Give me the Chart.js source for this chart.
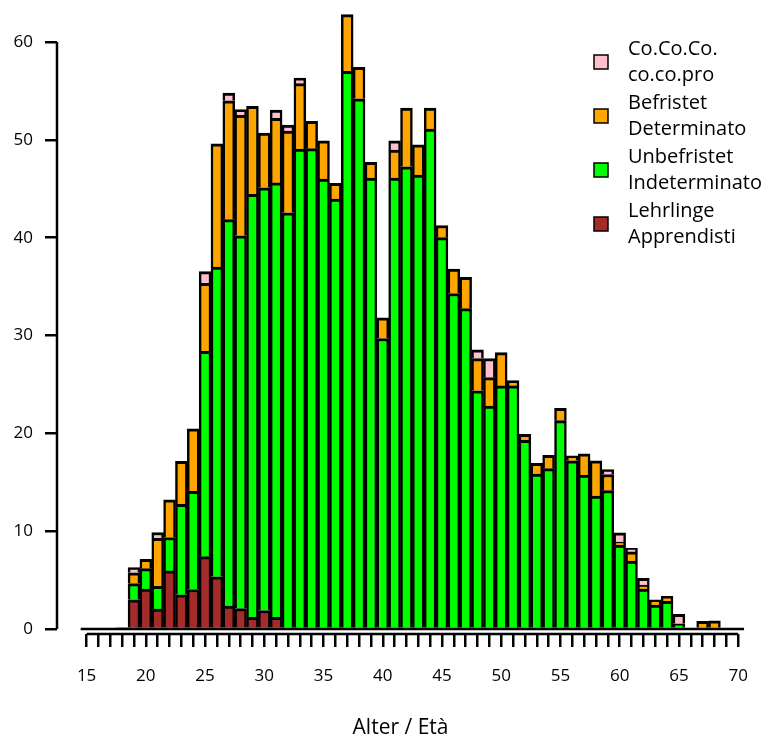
<!DOCTYPE html>
<html>
<head>
<meta charset="utf-8">
<script src="https://cdn.jsdelivr.net/npm/chart.js@4.4.1/dist/chart.umd.min.js"></script>
<style>
    body { margin: 0; background: #fff; }
    #wrap { width: 767px; height: 737px; }
</style>
</head>
<body>
<div id="wrap"><canvas id="chartAlter"></canvas></div>
<script>
// Altersklassen / classi di età
const eta = [15, 16, 17, 18, 19, 20, 21, 22, 23, 24, 25, 26, 27, 28, 29, 30, 31, 32, 33, 34,
    35, 36, 37, 38, 39, 40, 41, 42, 43, 44, 45, 46, 47, 48, 49, 50, 51, 52, 53, 54,
    55, 56, 57, 58, 59, 60, 61, 62, 63, 64, 65, 66, 67, 68, 69, 70];

const lehrlinge = [0, 0, 0, 0.1, 3.0, 4.1, 2.05, 5.95, 3.5, 4.05, 7.4, 5.35, 2.35, 2.1, 1.2, 1.9, 1.2, 0, 0, 0,
    0, 0, 0, 0, 0, 0, 0, 0, 0, 0, 0, 0, 0, 0, 0, 0, 0, 0, 0, 0,
    0, 0, 0, 0, 0, 0, 0, 0, 0, 0, 0, 0, 0, 0, 0, 0];

const unbefristet = [0, 0, 0, 0, 1.65, 2.08, 2.32, 3.41, 9.25, 10.03, 20.98, 31.65, 39.49, 38.1, 43.23, 43.2, 44.4, 42.55, 49.05, 49.1,
    46.0, 43.95, 57.0, 54.2, 46.1, 29.7, 46.1, 47.25, 46.4, 51.1, 40.0, 34.3, 32.75, 24.35, 22.8, 24.85, 24.85, 19.3, 15.85, 16.4,
    21.3, 17.2, 15.75, 13.6, 14.15, 8.6, 6.95, 4.1, 2.45, 2.85, 0.55, 0, 0, 0, 0, 0];

const befristet = [0, 0, 0, 0, 1.1, 0.95, 4.9, 3.85, 4.4, 6.4, 6.95, 12.6, 12.15, 12.3, 9.0, 5.6, 6.6, 8.35, 6.7, 2.8,
    3.9, 1.6, 5.8, 3.2, 1.6, 2.1, 2.85, 6.0, 3.1, 2.15, 1.25, 2.5, 3.2, 3.3, 2.9, 3.4, 0.55, 0.6, 1.1, 1.35,
    1.25, 0.5, 2.15, 3.6, 1.65, 0.3, 0.95, 0.4, 0.55, 0.5, 0, 0, 0.8, 0.85, 0, 0];

const cococo = [0, 0, 0, 0, 0.55, 0, 0.6, 0, 0, 0, 1.2, 0, 0.8, 0.6, 0, 0, 0.85, 0.6, 0.55, 0,
    0, 0, 0, 0, 0, 0, 0.95, 0, 0, 0, 0, 0, 0, 0.9, 1.95, 0, 0, 0, 0, 0,
    0, 0, 0, 0, 0.5, 0.95, 0.35, 0.7, 0, 0, 0.95, 0, 0, 0, 0, 0];

const yTicks = [0, 10, 20, 30, 40, 50, 60];
const xLabelStep = 5;

const fontFam = "'Open Sans', 'DejaVu Sans', sans-serif";

function serie(label, valori, colore) {
    return {
        label: label,
        data: eta.map((a, i) => ({ x: a, y: valori[i] })),
        backgroundColor: colore,
        borderColor: '#000',
        borderWidth: { top: 3, left: 2.5, right: 2.5, bottom: 0 },
        borderSkipped: false,
        barPercentage: 1,
        categoryPercentage: 1,
        clip: false
    };
}

// Achsen und Legende im Stil der Vorlage
const assiELegenda = {
    id: 'assiELegenda',
    afterDatasetsDraw(chart) {
        const { ctx, scales: { x, y } } = chart;
        ctx.save();
        ctx.strokeStyle = '#000';
        ctx.lineWidth = 2.5;
        // Grundlinie der Balken
        ctx.beginPath();
        ctx.moveTo(x.getPixelForValue(eta[0] - 0.5), y.getPixelForValue(0));
        ctx.lineTo(x.getPixelForValue(eta[eta.length - 1] + 0.5), y.getPixelForValue(0));
        ctx.stroke();
        // x-Achse
        ctx.beginPath();
        ctx.moveTo(x.getPixelForValue(eta[0]), x.top);
        ctx.lineTo(x.getPixelForValue(eta[eta.length - 1]), x.top);
        ctx.stroke();
        // y-Achse
        ctx.beginPath();
        ctx.moveTo(y.right, y.getPixelForValue(yTicks[0]));
        ctx.lineTo(y.right, y.getPixelForValue(yTicks[yTicks.length - 1]));
        ctx.stroke();
        ctx.restore();
    },
    afterDraw(chart) {
        const ctx = chart.ctx;
        const ds = chart.data.datasets.slice().reverse();
        ctx.save();
        ctx.font = '20px ' + fontFam;
        ctx.textBaseline = 'middle';
        ds.forEach((d, k) => {
            const y1 = 49 + k * 54;
            ctx.fillStyle = d.backgroundColor;
            ctx.fillRect(594, y1 + 6, 14, 14);
            ctx.strokeStyle = '#000';
            ctx.lineWidth = 1.5;
            ctx.strokeRect(594, y1 + 6, 14, 14);
            ctx.fillStyle = '#000';
            d.label.split('\n').forEach((riga, j) => {
                ctx.fillText(riga, 628, y1 + j * 26);
            });
        });
        ctx.restore();
    }
};

const ctx = document.getElementById('chartAlter').getContext('2d');
new Chart(ctx, {
    type: 'bar',
    data: {
        datasets: [
            serie('Lehrlinge\nApprendisti', lehrlinge, '#A52A2A'),
            serie('Unbefristet\nIndeterminato', unbefristet, '#00FF00'),
            serie('Befristet\nDeterminato', befristet, '#FFA500'),
            serie('Co.Co.Co.\nco.co.pro', cococo, '#FFC0CB')
        ]
    },
    options: {
        responsive: true,
        maintainAspectRatio: false,
        animation: false,
        layout: { padding: { top: 42, right: 16, left: 0, bottom: 0 } },
        plugins: {
            legend: { display: false },
            tooltip: { enabled: false }
        },
        scales: {
            x: {
                type: 'linear',
                stacked: true,
                offset: false,
                min: eta[0] - 2.5,
                max: eta[eta.length - 1] + 0.5,
                afterBuildTicks: s => { s.ticks = eta.map(v => ({ value: v })); },
                afterFit: s => { s.height = 103; },
                border: { display: false },
                grid: {
                    offset: false,
                    drawOnChartArea: false,
                    drawTicks: true,
                    tickLength: 13,
                    color: '#000',
                    lineWidth: 2.5
                },
                ticks: {
                    autoSkip: false,
                    maxRotation: 0,
                    padding: 19,
                    color: '#000',
                    font: { family: fontFam, size: 17 },
                    callback: v => (v % xLabelStep === 0 ? String(v) : '')
                },
                title: {
                    display: true,
                    text: 'Alter / Età',
                    color: '#000',
                    font: { family: fontFam, size: 21 },
                    padding: { top: 0, bottom: -4 }
                }
            },
            y: {
                stacked: true,
                min: -0.5,
                max: yTicks[yTicks.length - 1],
                afterBuildTicks: s => { s.ticks = yTicks.map(v => ({ value: v })); },
                afterFit: s => { s.width = 57; },
                border: { display: false },
                grid: {
                    drawOnChartArea: false,
                    drawTicks: true,
                    tickLength: 12,
                    color: '#000',
                    lineWidth: 2.5
                },
                ticks: {
                    padding: 12,
                    color: '#000',
                    font: { family: fontFam, size: 17 }
                }
            }
        }
    },
    plugins: [assiELegenda]
});
</script>
</body>
</html>
